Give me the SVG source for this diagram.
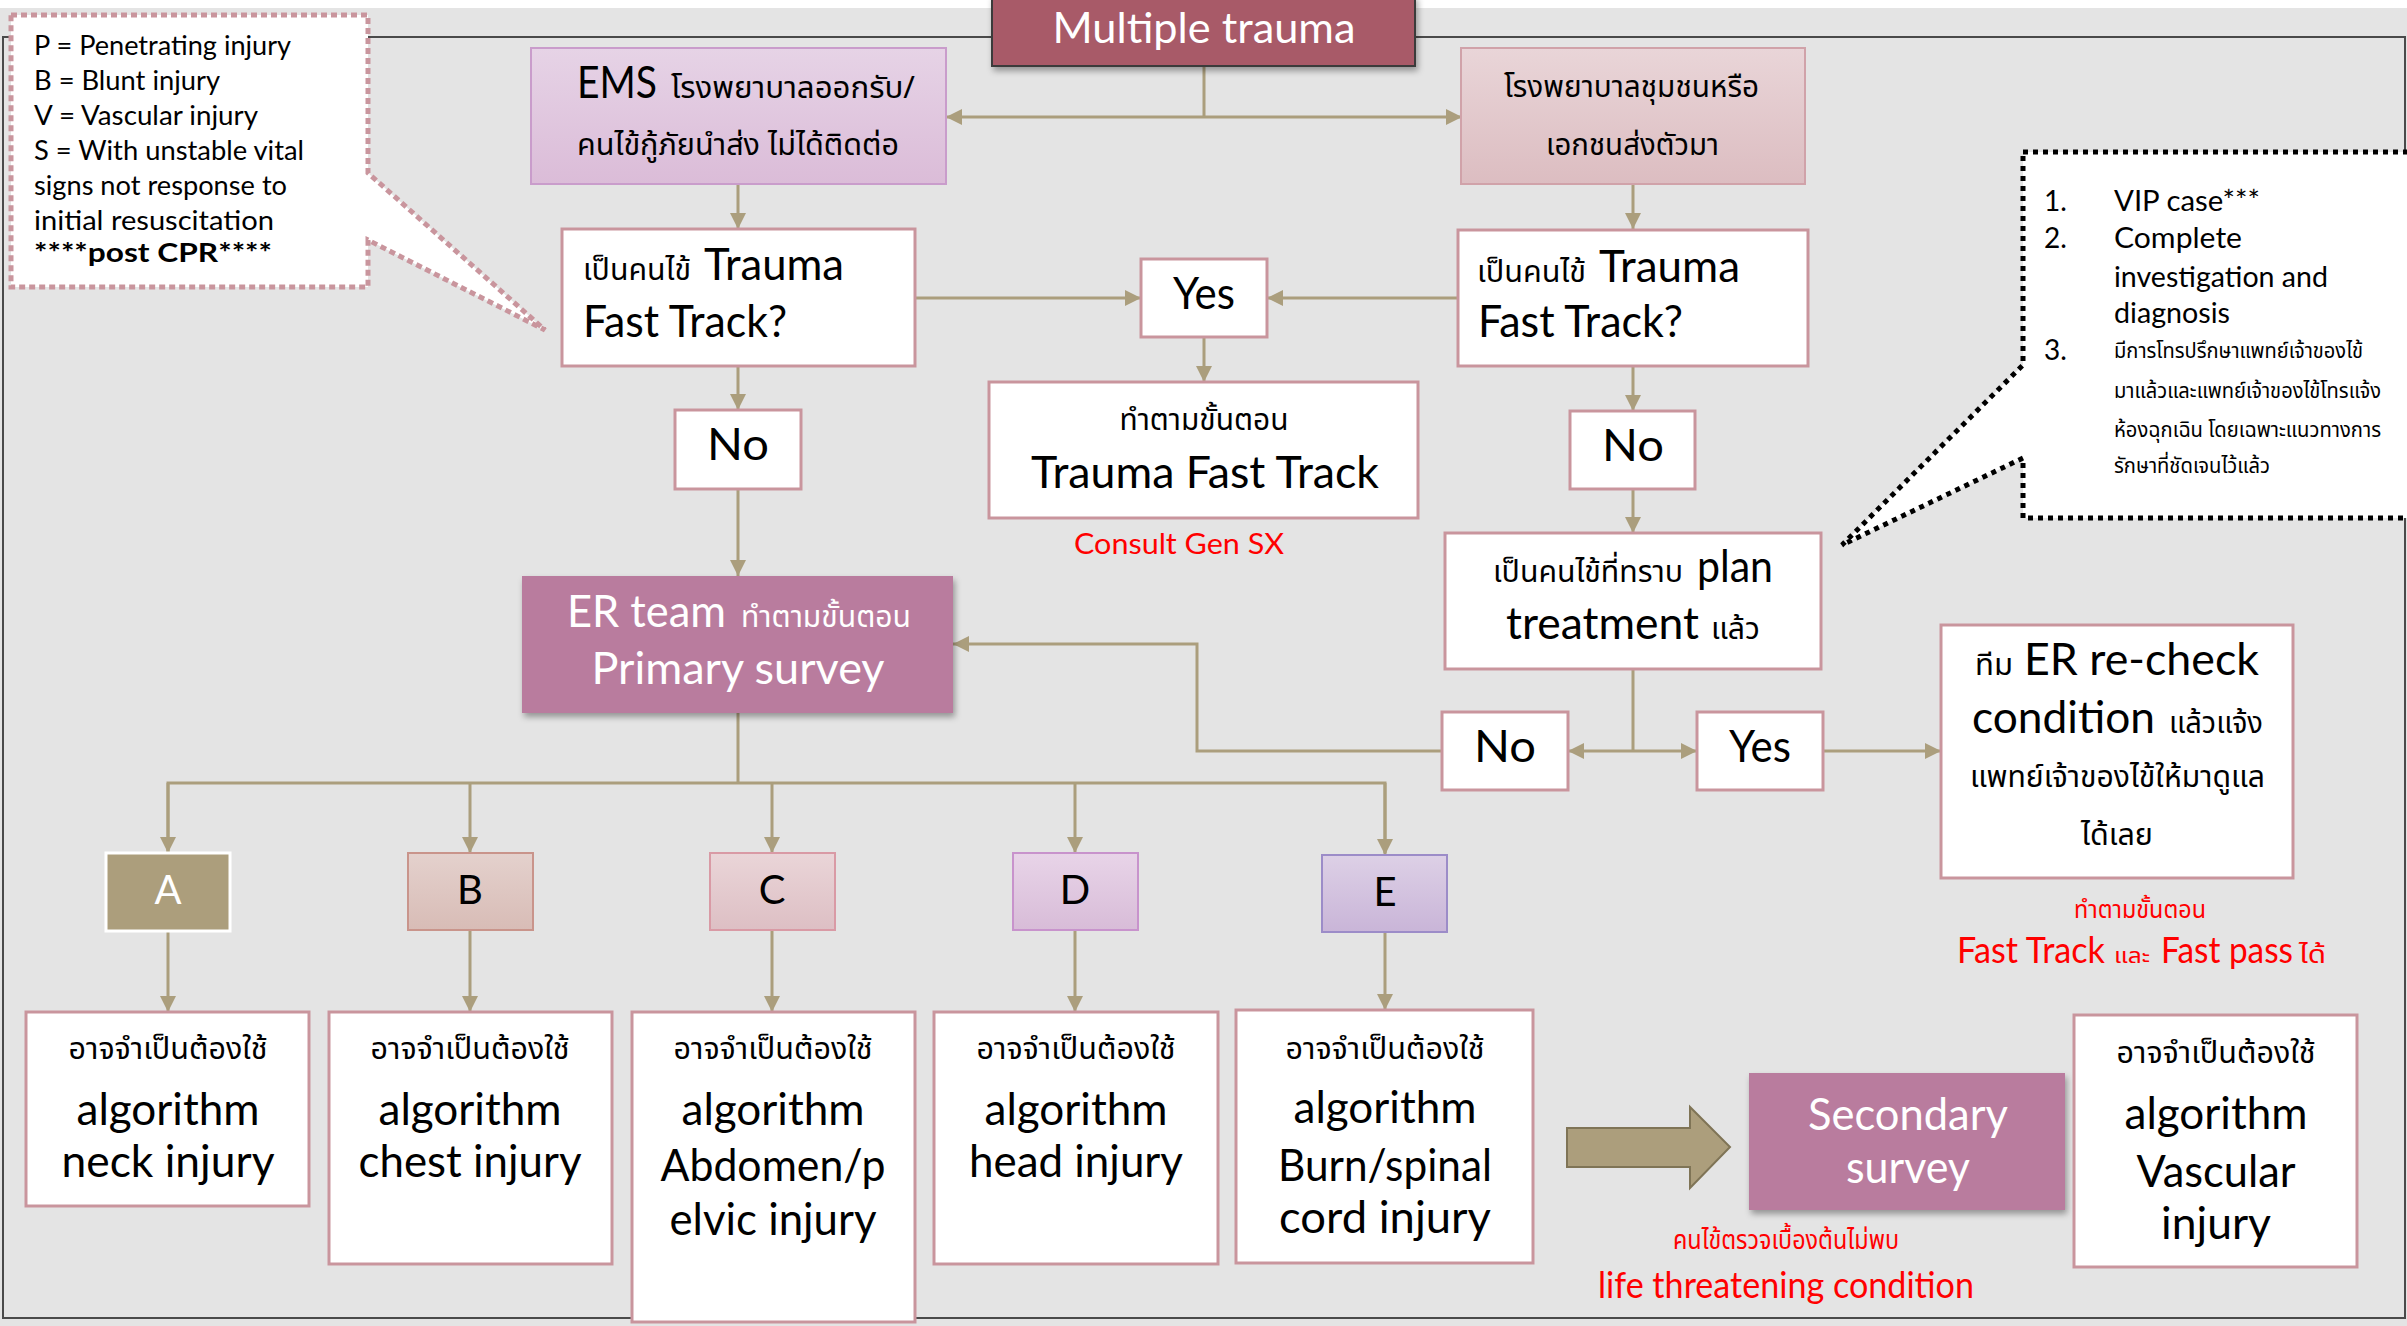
<svg xmlns="http://www.w3.org/2000/svg" width="2407" height="1326" viewBox="0 0 2407 1326">
<defs>
<style>
.e{font-family:Lato,'Liberation Sans','Noto Sans',sans-serif;}
.t{font-family:'Noto Sans Thai','Noto Sans','DejaVu Sans',Lato,sans-serif;}
.big{font-size:44px;}
.th{font-size:30px;}
.w{fill:#ffffff;}
.k{fill:#000000;}
.r{fill:#ff0000;}
.box{fill:#ffffff;stroke:#c9959d;stroke-width:3;}
.con{fill:none;stroke:#ab9e7d;stroke-width:3;}
.arr{marker-end:url(#ah);}
</style>
<marker id="ah" viewBox="0 0 10 10" refX="10" refY="5" markerUnits="userSpaceOnUse" markerWidth="16" markerHeight="16" orient="auto-start-reverse">
<path d="M0,0 L10,5 L0,10 z" fill="#ab9e7d"/>
</marker>
<filter id="sh" x="-10%" y="-10%" width="120%" height="130%">
<feDropShadow dx="2" dy="4" stdDeviation="3" flood-color="#000" flood-opacity="0.35"/>
</filter>
<linearGradient id="gEms" x1="0" y1="0" x2="0" y2="1"><stop offset="0" stop-color="#e6d3e6"/><stop offset="1" stop-color="#dbbcd8"/></linearGradient>
<linearGradient id="gPriv" x1="0" y1="0" x2="0" y2="1"><stop offset="0" stop-color="#e9d5d8"/><stop offset="1" stop-color="#dcbdc1"/></linearGradient>
<linearGradient id="gB" x1="0" y1="0" x2="0" y2="1"><stop offset="0" stop-color="#e4d1cd"/><stop offset="1" stop-color="#d8bcb6"/></linearGradient>
<linearGradient id="gC" x1="0" y1="0" x2="0" y2="1"><stop offset="0" stop-color="#ead5d8"/><stop offset="1" stop-color="#ddbfc4"/></linearGradient>
<linearGradient id="gD" x1="0" y1="0" x2="0" y2="1"><stop offset="0" stop-color="#e8d4e8"/><stop offset="1" stop-color="#d8bcd8"/></linearGradient>
<linearGradient id="gE" x1="0" y1="0" x2="0" y2="1"><stop offset="0" stop-color="#ddd0e6"/><stop offset="1" stop-color="#c9b5d8"/></linearGradient>
</defs>

<rect x="0" y="0" width="2407" height="1326" fill="#e4e4e4"/>
<rect x="0" y="0" width="2407" height="8" fill="#ffffff"/>
<rect id="frame" x="3" y="37" width="2402" height="1281" fill="none" stroke="#4a4a4a" stroke-width="2"/>

<g id="connectors">
<line class="con" x1="1204" y1="66" x2="1204" y2="117"/>
<line class="con" x1="946" y1="117" x2="1462" y2="117" marker-start="url(#ah)" marker-end="url(#ah)"/>
<line class="con arr" x1="738" y1="184" x2="738" y2="229"/>
<line class="con arr" x1="1633" y1="184" x2="1633" y2="229"/>
<line class="con arr" x1="915" y1="298" x2="1141" y2="298"/>
<line class="con arr" x1="1458" y1="298" x2="1267" y2="298"/>
<line class="con arr" x1="1204" y1="337" x2="1204" y2="382"/>
<line class="con arr" x1="738" y1="366" x2="738" y2="410"/>
<line class="con arr" x1="738" y1="489" x2="738" y2="576"/>
<line class="con arr" x1="1633" y1="366" x2="1633" y2="411"/>
<line class="con arr" x1="1633" y1="489" x2="1633" y2="533"/>
<line class="con" x1="1633" y1="669" x2="1633" y2="751"/>
<line class="con arr" x1="1633" y1="751" x2="1568" y2="751"/>
<line class="con arr" x1="1633" y1="751" x2="1697" y2="751"/>
<line class="con arr" x1="1823" y1="751" x2="1941" y2="751"/>
<polyline class="con arr" points="1442,751 1197,751 1197,644 953,644"/>
<line class="con" x1="738" y1="713" x2="738" y2="783"/>
<polyline class="con" points="168,853 168,783 1385,783 1385,853"/>
<line class="con arr" x1="168" y1="783" x2="168" y2="853"/>
<line class="con arr" x1="470" y1="783" x2="470" y2="853"/>
<line class="con arr" x1="772" y1="783" x2="772" y2="853"/>
<line class="con arr" x1="1075" y1="783" x2="1075" y2="853"/>
<line class="con arr" x1="1385" y1="783" x2="1385" y2="855"/>
<line class="con arr" x1="168" y1="932" x2="168" y2="1012"/>
<line class="con arr" x1="470" y1="930" x2="470" y2="1012"/>
<line class="con arr" x1="772" y1="930" x2="772" y2="1012"/>
<line class="con arr" x1="1075" y1="930" x2="1075" y2="1012"/>
<line class="con arr" x1="1385" y1="932" x2="1385" y2="1010"/>
</g>

<g id="n-legend">
<path d="M11,15 H368 V173 L545,330 L368,240 V287 H11 Z" fill="#ffffff" stroke="#c9959d" stroke-width="5" stroke-dasharray="6 4"/>
<g class="e k" font-size="26">
<text x="34" y="55" textLength="257" lengthAdjust="spacingAndGlyphs">P = Penetrating injury</text>
<text x="34" y="90" textLength="186" lengthAdjust="spacingAndGlyphs">B = Blunt injury</text>
<text x="34" y="125" textLength="224" lengthAdjust="spacingAndGlyphs">V = Vascular injury</text>
<text x="34" y="160" textLength="270" lengthAdjust="spacingAndGlyphs">S = With unstable vital</text>
<text x="34" y="195" textLength="253" lengthAdjust="spacingAndGlyphs">signs not response to</text>
<text x="34" y="230" textLength="240" lengthAdjust="spacingAndGlyphs">initial resuscitation</text>
<text x="34" y="262" font-weight="bold" textLength="238" lengthAdjust="spacingAndGlyphs">****post CPR****</text>
</g>
</g>

<g id="n-note">
<path d="M2023,152 H2425 V518 H2023 V458 L1842,545 L2023,365 Z" fill="#ffffff" stroke="#000000" stroke-width="5" stroke-dasharray="5 5"/>
<g class="e k" font-size="28">
<text x="2044" y="211">1.</text>
<text x="2114" y="211" textLength="146" lengthAdjust="spacingAndGlyphs">VIP case***</text>
<text x="2044" y="248">2.</text>
<text x="2114" y="248" textLength="128" lengthAdjust="spacingAndGlyphs">Complete</text>
<text x="2114" y="287" textLength="214" lengthAdjust="spacingAndGlyphs">investigation and</text>
<text x="2114" y="323" textLength="116" lengthAdjust="spacingAndGlyphs">diagnosis</text>
<text x="2044" y="360">3.</text>
</g>
<g class="t k" font-size="21">
<text x="2114" y="358" textLength="249" lengthAdjust="spacingAndGlyphs">มีการโทรปรึกษาแพทย์เจ้าของไข้</text>
<text x="2114" y="398" textLength="267" lengthAdjust="spacingAndGlyphs">มาแล้วและแพทย์เจ้าของไข้โทรแจ้ง</text>
<text x="2114" y="437" textLength="267" lengthAdjust="spacingAndGlyphs">ห้องฉุกเฉิน โดยเฉพาะแนวทางการ</text>
<text x="2114" y="473" textLength="156" lengthAdjust="spacingAndGlyphs">รักษาที่ชัดเจนไว้แล้ว</text>
</g>
</g>

<g id="n-title">
<rect x="992" y="-4" width="423" height="70" fill="#a85a67" stroke="#3a3a3a" stroke-width="2" filter="url(#sh)"/>
<text class="e w" x="1204" y="43" font-size="42" text-anchor="middle" textLength="303" lengthAdjust="spacingAndGlyphs">Multiple trauma</text>
</g>

<g id="n-ems">
<rect x="531" y="48" width="415" height="136" fill="url(#gEms)" stroke="#c99ccb" stroke-width="2"/>
<text class="e k big" x="577" y="98" textLength="80" lengthAdjust="spacingAndGlyphs">EMS</text>
<text class="t k th" x="671" y="98" textLength="244" lengthAdjust="spacingAndGlyphs">โรงพยาบาลออกรับ/</text>
<text class="t k th" x="577" y="155" textLength="322" lengthAdjust="spacingAndGlyphs">คนไข้กู้ภัยนำส่ง ไม่ได้ติดต่อ</text>
</g>

<g id="n-private">
<rect x="1461" y="48" width="344" height="136" fill="url(#gPriv)" stroke="#d0a2a9" stroke-width="2"/>
<text class="t k th" x="1504" y="97" textLength="255" lengthAdjust="spacingAndGlyphs">โรงพยาบาลชุมชนหรือ</text>
<text class="t k th" x="1546" y="155" textLength="173" lengthAdjust="spacingAndGlyphs">เอกชนส่งตัวมา</text>
</g>

<g id="n-ft-left">
<rect class="box" x="562" y="229" width="353" height="137"/>
<text class="t k th" x="583" y="280" textLength="108" lengthAdjust="spacingAndGlyphs">เป็นคนไข้</text>
<text class="e k big" x="704" y="280" textLength="140" lengthAdjust="spacingAndGlyphs">Trauma</text>
<text class="e k big" x="583" y="337" textLength="204" lengthAdjust="spacingAndGlyphs">Fast Track?</text>
</g>

<g id="n-ft-right">
<rect class="box" x="1458" y="230" width="350" height="136"/>
<text class="t k th" x="1477" y="282" textLength="109" lengthAdjust="spacingAndGlyphs">เป็นคนไข้</text>
<text class="e k big" x="1599" y="282" textLength="141" lengthAdjust="spacingAndGlyphs">Trauma</text>
<text class="e k big" x="1478" y="337" textLength="205" lengthAdjust="spacingAndGlyphs">Fast Track?</text>
</g>

<g id="n-yes-top">
<rect class="box" x="1141" y="259" width="126" height="78"/>
<text class="e k big" x="1204" y="309" text-anchor="middle" textLength="62" lengthAdjust="spacingAndGlyphs">Yes</text>
</g>

<g id="n-tft">
<rect class="box" x="989" y="382" width="429" height="136"/>
<text class="t k th" x="1204" y="430" text-anchor="middle" textLength="169" lengthAdjust="spacingAndGlyphs">ทำตามขั้นตอน</text>
<text class="e k big" x="1205" y="488" text-anchor="middle" textLength="348" lengthAdjust="spacingAndGlyphs">Trauma Fast Track</text>
</g>
<g id="n-consult">
<text class="e r" x="1179" y="554" font-size="28" text-anchor="middle" textLength="210" lengthAdjust="spacingAndGlyphs">Consult Gen SX</text>
</g>

<g id="n-no-left">
<rect class="box" x="675" y="410" width="126" height="79"/>
<text class="e k big" x="738" y="460" text-anchor="middle" textLength="62" lengthAdjust="spacingAndGlyphs">No</text>
</g>

<g id="n-no-right">
<rect class="box" x="1570" y="411" width="125" height="78"/>
<text class="e k big" x="1633" y="461" text-anchor="middle" textLength="62" lengthAdjust="spacingAndGlyphs">No</text>
</g>

<g id="n-er">
<rect x="522" y="576" width="431" height="137" fill="#b97c9e" filter="url(#sh)"/>
<text class="e w big" x="567" y="627" textLength="159" lengthAdjust="spacingAndGlyphs">ER team</text>
<text class="t w th" x="741" y="627" textLength="170" lengthAdjust="spacingAndGlyphs">ทำตามขั้นตอน</text>
<text class="e w big" x="738" y="684" text-anchor="middle" textLength="293" lengthAdjust="spacingAndGlyphs">Primary survey</text>
</g>

<g id="n-plan">
<rect class="box" x="1445" y="533" width="376" height="136"/>
<text class="t k th" x="1493" y="582" textLength="190" lengthAdjust="spacingAndGlyphs">เป็นคนไข้ที่ทราบ</text>
<text class="e k big" x="1697" y="582" textLength="76" lengthAdjust="spacingAndGlyphs">plan</text>
<text class="e k big" x="1506" y="639" textLength="193" lengthAdjust="spacingAndGlyphs">treatment</text>
<text class="t k th" x="1711" y="639" textLength="49" lengthAdjust="spacingAndGlyphs">แล้ว</text>
</g>

<g id="n-no-bottom">
<rect class="box" x="1442" y="712" width="126" height="78"/>
<text class="e k big" x="1505" y="762" text-anchor="middle" textLength="62" lengthAdjust="spacingAndGlyphs">No</text>
</g>

<g id="n-yes-bottom">
<rect class="box" x="1697" y="712" width="126" height="78"/>
<text class="e k big" x="1760" y="762" text-anchor="middle" textLength="62" lengthAdjust="spacingAndGlyphs">Yes</text>
</g>

<g id="n-recheck">
<rect class="box" x="1941" y="625" width="352" height="253"/>
<text class="t k th" x="1975" y="675" textLength="38" lengthAdjust="spacingAndGlyphs">ทีม</text>
<text class="e k big" x="2024" y="675" textLength="235" lengthAdjust="spacingAndGlyphs">ER re-check</text>
<text class="e k big" x="1972" y="733" textLength="183" lengthAdjust="spacingAndGlyphs">condition</text>
<text class="t k th" x="2169" y="733" textLength="94" lengthAdjust="spacingAndGlyphs">แล้วแจ้ง</text>
<text class="t k th" x="1970" y="787" textLength="295" lengthAdjust="spacingAndGlyphs">แพทย์เจ้าของไข้ให้มาดูแล</text>
<text class="t k th" x="2081" y="845" textLength="72" lengthAdjust="spacingAndGlyphs">ได้เลย</text>
</g>
<g id="n-fastpass">
<text class="t r" x="2074" y="918" font-size="24" textLength="132" lengthAdjust="spacingAndGlyphs">ทำตามขั้นตอน</text>
<text class="e r" x="1957" y="963" font-size="36" textLength="148" lengthAdjust="spacingAndGlyphs">Fast Track</text>
<text class="t r" x="2114" y="963" font-size="22" textLength="36" lengthAdjust="spacingAndGlyphs">และ</text>
<text class="e r" x="2161" y="963" font-size="36" textLength="132" lengthAdjust="spacingAndGlyphs">Fast pass</text>
<text class="t r" x="2299" y="963" font-size="24" textLength="27" lengthAdjust="spacingAndGlyphs">ได้</text>
</g>

<g id="n-A">
<rect x="106" y="853" width="124" height="78" fill="#ac9e7c" stroke="#ffffff" stroke-width="3"/>
<text class="e w" x="168" y="904" font-size="40" text-anchor="middle">A</text>
</g>
<g id="n-B">
<rect x="408" y="853" width="125" height="77" fill="url(#gB)" stroke="#c9948b" stroke-width="2"/>
<text class="e k" x="470" y="904" font-size="40" text-anchor="middle">B</text>
</g>
<g id="n-C">
<rect x="710" y="853" width="125" height="77" fill="url(#gC)" stroke="#d99aa5" stroke-width="2"/>
<text class="e k" x="772" y="904" font-size="40" text-anchor="middle">C</text>
</g>
<g id="n-D">
<rect x="1013" y="853" width="125" height="77" fill="url(#gD)" stroke="#c893cc" stroke-width="2"/>
<text class="e k" x="1075" y="904" font-size="40" text-anchor="middle">D</text>
</g>
<g id="n-E">
<rect x="1322" y="855" width="125" height="77" fill="url(#gE)" stroke="#9c8cc8" stroke-width="2"/>
<text class="e k" x="1385" y="906" font-size="40" text-anchor="middle">E</text>
</g>

<g id="n-alg-A">
<rect class="box" x="26" y="1012" width="283" height="194"/>
<text class="t k th" x="168" y="1059" text-anchor="middle" textLength="199" lengthAdjust="spacingAndGlyphs">อาจจำเป็นต้องใช้</text>
<text class="e k big" x="168" y="1125" text-anchor="middle" textLength="183" lengthAdjust="spacingAndGlyphs">algorithm</text>
<text class="e k big" x="168" y="1177" text-anchor="middle" textLength="213" lengthAdjust="spacingAndGlyphs">neck injury</text>
</g>
<g id="n-alg-B">
<rect class="box" x="329" y="1012" width="283" height="252"/>
<text class="t k th" x="470" y="1059" text-anchor="middle" textLength="199" lengthAdjust="spacingAndGlyphs">อาจจำเป็นต้องใช้</text>
<text class="e k big" x="470" y="1125" text-anchor="middle" textLength="183" lengthAdjust="spacingAndGlyphs">algorithm</text>
<text class="e k big" x="470" y="1177" text-anchor="middle" textLength="223" lengthAdjust="spacingAndGlyphs">chest injury</text>
</g>
<g id="n-alg-C">
<rect class="box" x="632" y="1012" width="283" height="310"/>
<text class="t k th" x="773" y="1059" text-anchor="middle" textLength="199" lengthAdjust="spacingAndGlyphs">อาจจำเป็นต้องใช้</text>
<text class="e k big" x="773" y="1125" text-anchor="middle" textLength="183" lengthAdjust="spacingAndGlyphs">algorithm</text>
<text class="e k big" x="773" y="1181" text-anchor="middle" textLength="225" lengthAdjust="spacingAndGlyphs">Abdomen/p</text>
<text class="e k big" x="773" y="1235" text-anchor="middle" textLength="207" lengthAdjust="spacingAndGlyphs">elvic injury</text>
</g>
<g id="n-alg-D">
<rect class="box" x="934" y="1012" width="284" height="252"/>
<text class="t k th" x="1076" y="1059" text-anchor="middle" textLength="199" lengthAdjust="spacingAndGlyphs">อาจจำเป็นต้องใช้</text>
<text class="e k big" x="1076" y="1125" text-anchor="middle" textLength="183" lengthAdjust="spacingAndGlyphs">algorithm</text>
<text class="e k big" x="1076" y="1177" text-anchor="middle" textLength="214" lengthAdjust="spacingAndGlyphs">head injury</text>
</g>
<g id="n-alg-E">
<rect class="box" x="1236" y="1010" width="297" height="253"/>
<text class="t k th" x="1385" y="1059" text-anchor="middle" textLength="199" lengthAdjust="spacingAndGlyphs">อาจจำเป็นต้องใช้</text>
<text class="e k big" x="1385" y="1123" text-anchor="middle" textLength="183" lengthAdjust="spacingAndGlyphs">algorithm</text>
<text class="e k big" x="1385" y="1181" text-anchor="middle" textLength="214" lengthAdjust="spacingAndGlyphs">Burn/spinal</text>
<text class="e k big" x="1385" y="1233" text-anchor="middle" textLength="212" lengthAdjust="spacingAndGlyphs">cord injury</text>
</g>

<g id="n-bigarrow">
<polygon points="1567,1128 1690,1128 1690,1107 1730,1147 1690,1188 1690,1167 1567,1167" fill="#ac9e7c" stroke="#7f7456" stroke-width="2"/>
</g>

<g id="n-secondary">
<rect x="1749" y="1073" width="316" height="137" fill="#b97c9e" filter="url(#sh)"/>
<text class="e w big" x="1908" y="1130" text-anchor="middle" textLength="200" lengthAdjust="spacingAndGlyphs">Secondary</text>
<text class="e w big" x="1908" y="1183" text-anchor="middle" textLength="124" lengthAdjust="spacingAndGlyphs">survey</text>
</g>
<g id="n-lifethreat">
<text class="t r" x="1786" y="1249" font-size="26" text-anchor="middle" textLength="226" lengthAdjust="spacingAndGlyphs">คนไข้ตรวจเบื้องต้นไม่พบ</text>
<text class="e r" x="1786" y="1298" font-size="36" text-anchor="middle" textLength="376" lengthAdjust="spacingAndGlyphs">life threatening condition</text>
</g>

<g id="n-vascular">
<rect class="box" x="2074" y="1015" width="283" height="252"/>
<text class="t k th" x="2216" y="1063" text-anchor="middle" textLength="199" lengthAdjust="spacingAndGlyphs">อาจจำเป็นต้องใช้</text>
<text class="e k big" x="2216" y="1129" text-anchor="middle" textLength="183" lengthAdjust="spacingAndGlyphs">algorithm</text>
<text class="e k big" x="2216" y="1187" text-anchor="middle" textLength="159" lengthAdjust="spacingAndGlyphs">Vascular</text>
<text class="e k big" x="2216" y="1239" text-anchor="middle" textLength="110" lengthAdjust="spacingAndGlyphs">injury</text>
</g>
</svg>
